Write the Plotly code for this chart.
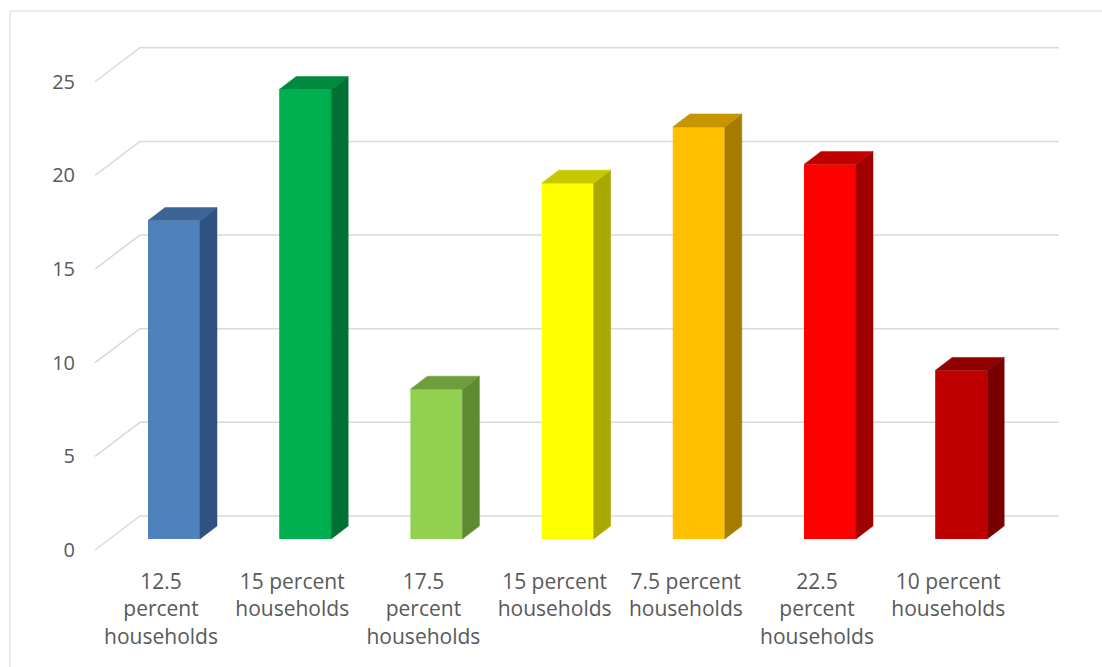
import plotly.graph_objects as go

# ---- data ----
categories = ["12.5<br>percent<br>households", "15 percent<br>households",
              "17.5<br>percent<br>households", "15 percent<br>households",
              "7.5 percent<br>households", "22.5<br>percent<br>households",
              "10 percent<br>households"]
values = [17, 24, 8, 19, 22, 20, 9]
y_ticks = [0, 5, 10, 15, 20, 25]
front_colors = ["#4F81BD", "#00B050", "#92D050", "#FFFF00", "#FFC000", "#FF0000", "#C00000"]
top_colors = ["#3C6494", "#00883D", "#6E9E3C", "#C8C800", "#C69500", "#C00000", "#900000"]
side_colors = ["#2F5282", "#007033", "#5E8A30", "#A8A800", "#A57C00", "#A00000", "#780000"]

# ---- layout geometry (pixels) ----
W, H = 1102, 667
L, R, T, B = 76, 0, 20, 102
px_per_x = 131.2          # pixels per category
px_per_y = 18.73          # pixels per value unit
x0_px = 174               # pixel of category 0 centre (front face)
y0_px = 539               # pixel of value 0 (bar base)

plot_w = W - L - R
plot_h = H - T - B
x_lo = -(x0_px - L) / px_per_x
x_hi = x_lo + plot_w / px_per_x
y_lo = -((H - B) - y0_px) / px_per_y
y_hi = y_lo + plot_h / px_per_y

bar_w = 52 / px_per_x
dx = 17 / px_per_x        # depth shift of bar
dy = 13 / px_per_y
back_dy = (y0_px - 516) / px_per_y
front_dy = (y0_px - 550) / px_per_y
back_x_left = (140 - x0_px) / px_per_x
front_x_left = (95 - x0_px) / px_per_x
back_x_right = (1059 - x0_px) / px_per_x
label_dx = -13 / px_per_x

xs = list(range(len(values)))

fig = go.Figure()

# front faces
fig.add_trace(go.Bar(x=xs, y=values, width=bar_w, marker=dict(color=front_colors, line=dict(width=0)),
                     hoverinfo="skip", showlegend=False))

# side and top faces
for i, v in zip(xs, values):
    r = i + bar_w / 2
    l = i - bar_w / 2
    fig.add_trace(go.Scatter(
        x=[r, r + dx, r + dx, r, r], y=[0, dy, v + dy, v, 0],
        mode="lines", fill="toself", fillcolor=side_colors[i],
        line=dict(color=side_colors[i], width=0.5), hoverinfo="skip", showlegend=False))
    fig.add_trace(go.Scatter(
        x=[l, r, r + dx, l + dx, l], y=[v, v, v + dy, v + dy, v],
        mode="lines", fill="toself", fillcolor=top_colors[i],
        line=dict(color=top_colors[i], width=0.5), hoverinfo="skip", showlegend=False))

# gridlines (back wall + left wall diagonals)
shapes = []
for t in y_ticks:
    shapes.append(dict(type="path", layer="below", xref="x", yref="y",
                       path=f"M {front_x_left},{t + front_dy} L {back_x_left},{t + back_dy} L {back_x_right},{t + back_dy}",
                       line=dict(color="#D9D9D9", width=1.5)))
# chart border
shapes.append(dict(type="rect", xref="paper", yref="paper", layer="below",
                   x0=(10 - L) / plot_w, x1=(W + 20 - L) / plot_w,
                   y0=-(H + 20 - (H - B)) / plot_h, y1=((H - B) - 11) / plot_h,
                   line=dict(color="#D9D9D9", width=1), fillcolor="rgba(0,0,0,0)"))

font = dict(family="Open Sans", size=20, color="#595959")
xfont = dict(family="Open Sans", size=21, color="#595959")
fig.update_layout(
    width=W, height=H, margin=dict(l=L, r=R, t=T, b=B),
    paper_bgcolor="white", plot_bgcolor="white",
    shapes=shapes, font=font, showlegend=False,
    xaxis=dict(range=[x_lo, x_hi], tickvals=[i + label_dx for i in xs], ticktext=categories,
               showgrid=False, zeroline=False, showline=False, ticks="", tickfont=xfont,
               ticklabelstandoff=2, fixedrange=True),
    yaxis=dict(range=[y_lo, y_hi], tickvals=[t + front_dy for t in y_ticks],
               ticktext=[str(t) for t in y_ticks],
               showgrid=False, zeroline=False, showline=False, ticks="", tickfont=font,
               fixedrange=True),
)

fig.write_html("out.html")
